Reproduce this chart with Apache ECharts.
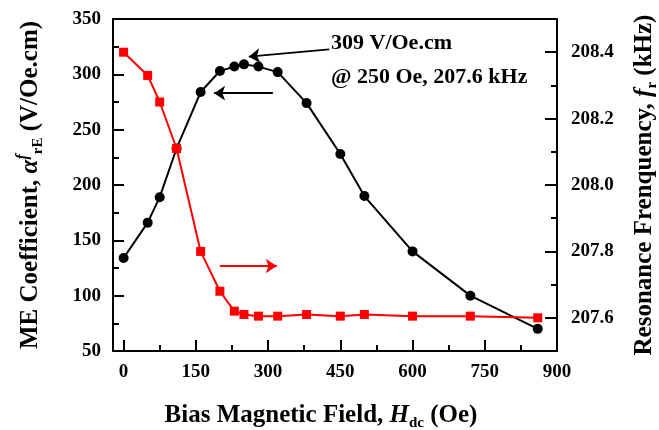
<!DOCTYPE html>
<html>
<head>
<meta charset="utf-8">
<script src="https://cdn.jsdelivr.net/npm/echarts@6/dist/echarts.min.js"></script>
<style>
  html, body { margin: 0; padding: 0; background: #fff; }
  #main { width: 659px; height: 430px; }
</style>
</head>
<body>
<div id="main"></div>
<script>
// 数据：偏置磁场 (Oe)
const fieldME = [0, 50, 75, 110, 160, 200, 230, 250, 280, 320, 380, 450, 500, 600, 720, 860];
const meCoef = [134, 166, 189, 233, 284, 303, 307, 309, 307, 302, 274, 228, 190, 140, 100, 70];
const fieldFr = [0, 50, 75, 110, 160, 200, 230, 250, 280, 320, 380, 450, 500, 600, 720, 860];
const resFreq = [208.40, 208.33, 208.25, 208.11, 207.80, 207.68, 207.62, 207.61, 207.605, 207.605, 207.61, 207.605, 207.61, 207.605, 207.605, 207.60];

// 刻度
const xMajor = [0, 150, 300, 450, 600, 750, 900];
const xMinor = [75, 225, 375, 525, 675, 825];
const leftMajor = [50, 100, 150, 200, 250, 300, 350];
const leftMinor = [75, 125, 175, 225, 275, 325];
const rightMajor = [207.6, 207.8, 208.0, 208.2, 208.4];
const rightMinor = [207.7, 207.9, 208.1, 208.3];

const X_MIN = -22, X_MAX = 900;
const L_MIN = 50, L_MAX = 350;
const R_MIN = 207.5, R_MAX = 208.5;

const grid = { left: 113, right: 102, top: 19, bottom: 79 };
const plotW = 659 - grid.left - grid.right;
const plotH = 430 - grid.top - grid.bottom;
// 每像素对应的数据量（用于刻度线长度）
const xPerPx = (X_MAX - X_MIN) / plotW;
const lPerPx = (L_MAX - L_MIN) / plotH;

const font = "Liberation Serif";
const tickLabel = { color: "#000", fontFamily: font, fontWeight: "bold", fontSize: 19 };
const titleBase = { color: "#000", fontFamily: font, fontWeight: "bold", fontSize: 25 };
const rich = {
  i: { fontFamily: font, fontWeight: "bold", fontStyle: "italic", fontSize: 25, color: "#000" },
  sub: { fontFamily: font, fontWeight: "bold", fontSize: 15, color: "#000", verticalAlign: "bottom", lineHeight: 31 },
  sup: { fontFamily: font, fontWeight: "bold", fontStyle: "italic", fontSize: 16, color: "#000", verticalAlign: "top", lineHeight: 31 }
};

function zip(xs, ys) {
  return xs.map((x, i) => [x, ys[i]]);
}

function baseAxis(min, max, pos) {
  return {
    type: "value", min: min, max: max, position: pos,
    axisLine: { show: true, onZero: false, lineStyle: { color: "#000", width: 2 } },
    axisTick: { show: false },
    splitLine: { show: false }
  };
}

// 刻度线（向内），作为 markLine 画出
function tick(p1, p2) {
  return [
    { coord: p1, symbol: "none", lineStyle: { color: "#000", width: 2 } },
    { coord: p2, symbol: "none" }
  ];
}
let leftTicks = [];
xMajor.forEach(v => leftTicks.push(tick([v, L_MIN], [v, L_MIN + 11 * lPerPx])));
xMinor.forEach(v => leftTicks.push(tick([v, L_MIN], [v, L_MIN + 6 * lPerPx])));
leftMajor.forEach(v => leftTicks.push(tick([X_MIN, v], [X_MIN + 11 * xPerPx, v])));
leftMinor.forEach(v => leftTicks.push(tick([X_MIN, v], [X_MIN + 6 * xPerPx, v])));
let rightTicks = [];
rightMajor.forEach(v => rightTicks.push(tick([X_MAX, v], [X_MAX - 12 * xPerPx, v])));
rightMinor.forEach(v => rightTicks.push(tick([X_MAX, v], [X_MAX - 6 * xPerPx, v])));

let chart = echarts.init(document.getElementById("main"));
chart.setOption({
  animation: false,
  grid: Object.assign({ containLabel: false, outerBoundsMode: "none" }, grid),
  xAxis: [
    Object.assign(baseAxis(X_MIN, X_MAX, "bottom"), {
      axisLabel: Object.assign({ customValues: xMajor, margin: 12 }, tickLabel),
      name: "Bias Magnetic Field, {i|H}{sub|dc} (Oe)",
      nameLocation: "middle",
      nameGap: 49,
      nameTextStyle: Object.assign({ rich: rich, lineHeight: 31, padding: [0, 28, 0, 0] }, titleBase)
    }),
    Object.assign(baseAxis(X_MIN, X_MAX, "top"), {
      axisLabel: { show: false }
    })
  ],
  yAxis: [
    Object.assign(baseAxis(L_MIN, L_MAX, "left"), {
      axisLabel: Object.assign({ customValues: leftMajor, margin: 12 }, tickLabel),
      name: "ME Coefficient, {i|α}{sup|f}{sub|r}{sub|E} (V/Oe.cm)",
      nameLocation: "middle",
      nameRotate: 90,
      nameGap: 67,
      nameTextStyle: Object.assign({ rich: rich, lineHeight: 31 }, titleBase)
    }),
    Object.assign(baseAxis(R_MIN, R_MAX, "right"), {
      axisLabel: Object.assign({
        customValues: rightMajor, margin: 14,
        formatter: v => v.toFixed(1)
      }, tickLabel),
      name: "Resonance Frenquency, {i|f}{sub|r} (kHz)",
      nameLocation: "middle",
      nameRotate: 90,
      nameGap: 72,
      nameTextStyle: Object.assign({ rich: rich, lineHeight: 31 }, titleBase)
    })
  ],
  series: [
    {
      name: "ME",
      type: "line",
      xAxisIndex: 0,
      yAxisIndex: 0,
      data: zip(fieldME, meCoef),
      symbol: "circle",
      symbolSize: 10,
      itemStyle: { color: "#000" },
      lineStyle: { color: "#000", width: 2 },
      z: 2,
      markLine: {
        silent: true,
        symbol: ["none", "arrow"],
        symbolSize: 11,
        label: { show: false },
        lineStyle: { color: "#000", width: 1.8, type: "solid" },
        data: [
          [{ coord: [310, 283] }, { coord: [188, 283] }],
          [{ coord: [427, 322.6] }, { coord: [260, 316] }]
        ].concat(leftTicks)
      }
    },
    {
      name: "fr",
      type: "line",
      xAxisIndex: 0,
      yAxisIndex: 1,
      data: zip(fieldFr, resFreq),
      symbol: "rect",
      symbolSize: 9,
      itemStyle: { color: "#ff0000" },
      lineStyle: { color: "#ff0000", width: 2 },
      z: 3,
      markLine: {
        silent: true,
        symbol: ["none", "arrow"],
        symbolSize: 11,
        label: { show: false },
        lineStyle: { color: "#ff0000", width: 1.8, type: "solid" },
        data: [
          [{ coord: [200, 207.756] }, { coord: [318, 207.756] }]
        ].concat(rightTicks)
      }
    }
  ],
  graphic: [
    {
      type: "text", left: 331, top: 32,
      style: { text: "309 V/Oe.cm", font: 'bold 22px "Liberation Serif"', fill: "#000" }
    },
    {
      type: "text", left: 331, top: 66,
      style: { text: "@ 250 Oe, 207.6 kHz", font: 'bold 22px "Liberation Serif"', fill: "#000" }
    }
  ]
});
</script>
</body>
</html>
